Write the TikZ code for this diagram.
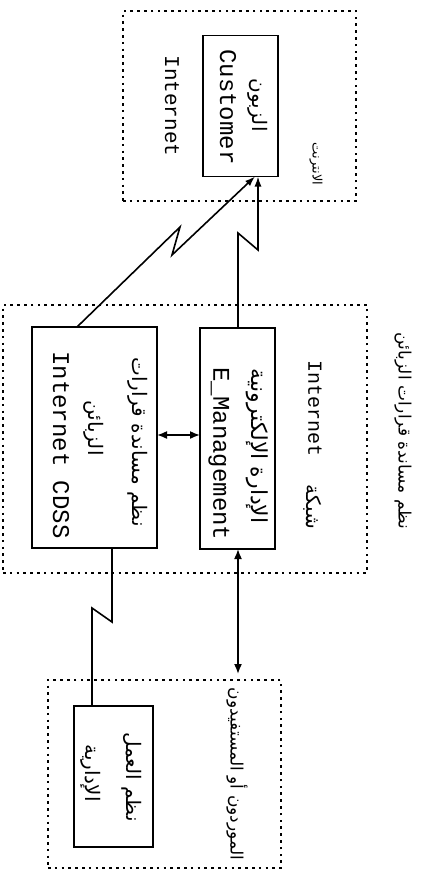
\documentclass[tikz,border=0pt]{standalone}
\usepackage{fontspec}
\setmainfont{Liberation Serif}
\newfontfamily\latfont{Liberation Mono}
\newfontfamily\arabicfont[Script=Arabic]{DejaVu Sans}
\TeXXeTstate=1
\usetikzlibrary{arrows.meta,calc}
\begin{document}
\begin{tikzpicture}[x=1pt,y=-1pt,
  region/.style={draw, line width=2pt, dash pattern=on 2.6pt off 4.2pt, inner sep=0pt, outer sep=0pt},
  boxnode/.style={draw, line width=1.8pt, inner sep=0pt, outer sep=0pt},
  lat/.style={font=\latfont\fontsize{24}{27}\selectfont, rotate=-90, inner sep=0pt},
  ar/.style={font=\arabicfont\fontsize{20}{23}\selectfont, rotate=-90, inner sep=0pt},
  link/.style={line width=1.6pt},
  tip/.style={-{Latex[length=10pt,width=7pt]}},
  dtip/.style={{Latex[length=10pt,width=8pt]}-{Latex[length=10pt,width=8pt]}}]
\useasboundingbox (0,0) rectangle (428,870);

% regions
\node[region, minimum width=233pt, minimum height=190pt] (rtop) at (239.5,106) {};
\node[region, minimum width=364pt, minimum height=268pt] (rmid) at (185,439) {};
\node[region, minimum width=233pt, minimum height=188pt] (rbot) at (164.5,774) {};

% boxes
\node[boxnode, minimum width=75pt, minimum height=141pt] (cust) at (240.5,106) {};
\node[boxnode, minimum width=125pt, minimum height=221pt] (cdss) at (94.5,437.5) {};
\node[boxnode, minimum width=75pt, minimum height=221pt] (emg) at (237.5,438.5) {};
\node[boxnode, minimum width=79pt, minimum height=141pt] (adm) at (113.5,776.5) {};

% texts
\node[lat, font=\latfont\fontsize{21}{24}\selectfont] (tInt1) at (172,106) {Internet};
\node[ar] (tZab) at (258,105) {\beginR الزبون\endR};
\node[lat] (tCust) at (228,107) {Customer};
\node[ar, font=\arabicfont\fontsize{13}{15}\selectfont] (tNet) at (316,164) {\beginR الانترنت\endR};

\node[ar, font=\arabicfont\fontsize{17}{20}\selectfont] (tTitle) at (403,431) {\beginR نظم مساندة قرارات الزبائن\endR};
\node[lat, anchor=west, font=\latfont\fontsize{20}{24}\selectfont] (tInt2) at (315,360) {Internet};
\node[ar] (tShab) at (313,507) {\beginR شبكة\endR};

\node[ar] (tC1) at (138,442) {\beginR نظم مساندة قرارات\endR};
\node[ar] (tC2) at (94,428) {\beginR الزبائن\endR};
\node[lat] (tC3) at (61,445) {Internet CDSS};

\node[ar, font=\arabicfont\fontsize{22}{25}\selectfont] (tE1) at (257,446) {\beginR الإدارة الإلكترونية\endR};
\node[lat] (tE2) at (219,454) {E\_Management};

\node[ar] (tA1) at (132,777) {\beginR نظم العمل\endR};
\node[ar] (tA2) at (91,773) {\beginR الإدارية\endR};
\node[ar, font=\arabicfont\fontsize{17}{20}\selectfont] (tSup) at (237,774) {\beginR الموردون أو المستفيدون\endR};

% connectors
\coordinate (supEnd) at (238,674);
\draw[link, tip] ($(cdss.north west)+(45,0)$) -- (180,227) -- (172,255) -- ($(cust.south west)+(52,0)$);
\draw[link, tip] ($(emg.north west)+(38,0)$) -- (238,233) -- (258,250) -- ($(cust.south west)+(55,0)$);
\draw[link] ($(cdss.south west)+(80,0)$) -- (112,622) -- (92,608) -- ($(adm.north west)+(18,0)$);
\draw[link, dtip] ($(emg.south west)+(38,0)$) -- (supEnd);
\draw[link, dtip] (cdss.east |- 0,435) -- (emg.west |- 0,435);
\end{tikzpicture}
\end{document}
